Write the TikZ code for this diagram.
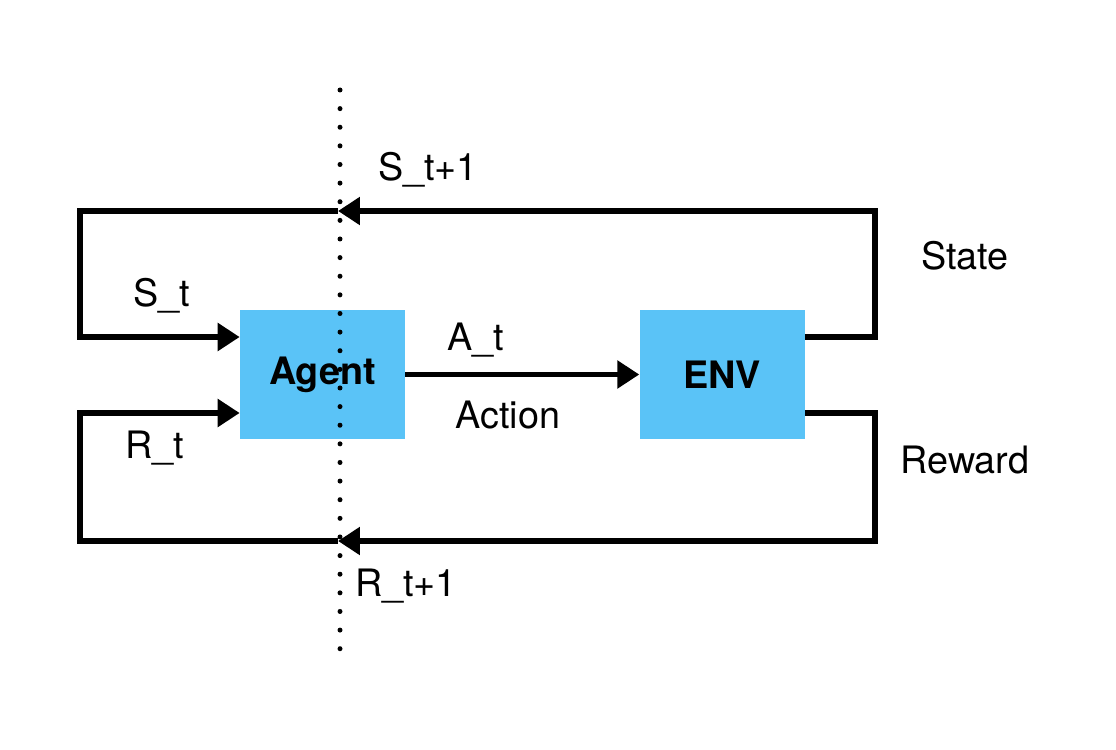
\documentclass[tikz,border=0pt]{standalone}
\usepackage{fontspec}
\setmainfont{TeX Gyre Heros}
\usetikzlibrary{arrows.meta, positioning}
\definecolor{boxblue}{RGB}{90,195,247}

\begin{document}
\begin{tikzpicture}[
    x=0.02cm, y=-0.02cm,
    block/.style={rectangle, fill=boxblue, minimum width=3.3cm, minimum height=2.6cm, align=center, font=\fontsize{21.5}{26}\selectfont\bfseries},
    label/.style={font=\fontsize{21.5}{26}\selectfont},
    line/.style={line width=0.115cm},
    arrow/.style={line, -{Triangle[length=0.44cm, width=0.54cm]}},
    sep/.style={line width=0.1cm, line cap=round, dash pattern=on 0pt off 10.6pt}
]
    \useasboundingbox (0,0) rectangle (1116,750);

    % Blocks
    \node[block] (agent) at (322.5,374.5) {Agent};
    \node[block, right=4.68cm of agent] (env) {ENV};

    % Loop corners
    \coordinate (tl) at (80,211);
    \coordinate (tr) at (875,211);
    \coordinate (bl) at (80,541);
    \coordinate (br) at (875,541);
    \coordinate (topmid) at (338,211);
    \coordinate (botmid) at (338,541);

    % Arrows
    \draw[arrow] (agent) -- (env);
    \draw[arrow] ([yshift=0.75cm]env.east) -| (tr) -- (topmid);
    \draw[arrow] (topmid) -- (tl) |- ([yshift=0.75cm]agent.west);
    \draw[arrow] ([yshift=-0.77cm]env.east) -| (br) -- (botmid);
    \draw[arrow] (botmid) -- (bl) |- ([yshift=-0.77cm]agent.west);

    % Time boundary
    \coordinate (septop) at (340,90);
    \coordinate (sepbot) at (340,651);
    \draw[sep] (septop) -- (sepbot);

    % Labels
    \node[label] (snext) at (428,170) {S\_t+1};
    \node[label] (state) at (965,256) {State};
    \node[label] (st) at (162,296) {S\_t};
    \node[label] (at) at (476,340) {A\_t};
    \node[label] (action) at (508,415) {Action};
    \node[label] (rt) at (155,448) {R\_t};
    \node[label] (reward) at (965,460) {Reward};
    \node[label] (rnext) at (406,586) {R\_t+1};
\end{tikzpicture}
\end{document}
